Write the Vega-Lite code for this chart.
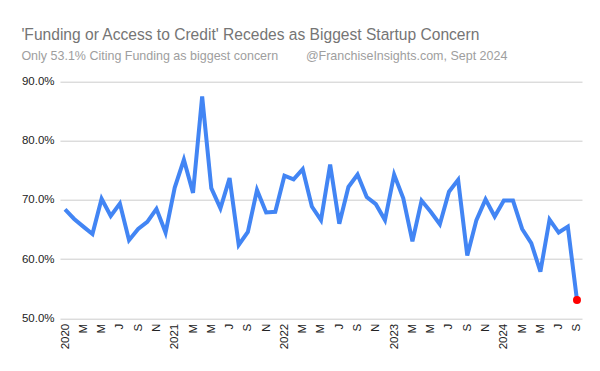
{
  "$schema": "https://vega.github.io/schema/vega-lite/v6.json",
  "width": 522,
  "height": 236.6,
  "autosize": "none",
  "padding": {"left": 60, "top": 81.7, "right": 18, "bottom": 53},
  "background": "white",
  "title": {
    "text": "'Funding or Access to Credit' Recedes as Biggest Startup Concern",
    "subtitle": "Only 53.1% Citing Funding as biggest concern\u00a0\u00a0\u00a0\u00a0\u00a0\u00a0\u00a0\u00a0@FranchiseInsights.com, Sept 2024",
    "anchor": "start",
    "dx": 0,
    "offset": 13,
    "font": "Liberation Sans",
    "fontSize": 15.6,
    "fontWeight": "normal",
    "color": "#757575",
    "subtitleFont": "Liberation Sans",
    "subtitleFontSize": 12.5,
    "subtitleColor": "#9e9e9e",
    "subtitlePadding": 7
  },
  "config": {
    "view": {"stroke": null},
    "axis": {"labelFont": "Liberation Sans", "labelFontSize": 11.5, "labelColor": "#222222", "ticks": false, "domain": false}
  },
  "data": {
    "values": [
      {"month": "2020-01", "pct": 68.4},
      {"month": "2020-02", "pct": 66.8},
      {"month": "2020-03", "pct": 65.5},
      {"month": "2020-04", "pct": 64.25},
      {"month": "2020-05", "pct": 70.2},
      {"month": "2020-06", "pct": 67.3},
      {"month": "2020-07", "pct": 69.4},
      {"month": "2020-08", "pct": 63.2},
      {"month": "2020-09", "pct": 65.1},
      {"month": "2020-10", "pct": 66.3},
      {"month": "2020-11", "pct": 68.5},
      {"month": "2020-12", "pct": 64.5},
      {"month": "2021-01", "pct": 72.1},
      {"month": "2021-02", "pct": 76.8},
      {"month": "2021-03", "pct": 71.2},
      {"month": "2021-04", "pct": 87.5},
      {"month": "2021-05", "pct": 72.0},
      {"month": "2021-06", "pct": 68.6},
      {"month": "2021-07", "pct": 73.7},
      {"month": "2021-08", "pct": 62.4},
      {"month": "2021-09", "pct": 64.6},
      {"month": "2021-10", "pct": 71.7},
      {"month": "2021-11", "pct": 67.9},
      {"month": "2021-12", "pct": 68.0},
      {"month": "2022-01", "pct": 74.1},
      {"month": "2022-02", "pct": 73.5},
      {"month": "2022-03", "pct": 75.2},
      {"month": "2022-04", "pct": 68.9},
      {"month": "2022-05", "pct": 66.6},
      {"month": "2022-06", "pct": 76.0},
      {"month": "2022-07", "pct": 66.0},
      {"month": "2022-08", "pct": 72.2},
      {"month": "2022-09", "pct": 74.3},
      {"month": "2022-10", "pct": 70.5},
      {"month": "2022-11", "pct": 69.3},
      {"month": "2022-12", "pct": 66.6},
      {"month": "2023-01", "pct": 74.3},
      {"month": "2023-02", "pct": 70.3},
      {"month": "2023-03", "pct": 63.0},
      {"month": "2023-04", "pct": 69.9},
      {"month": "2023-05", "pct": 68.0},
      {"month": "2023-06", "pct": 65.9},
      {"month": "2023-07", "pct": 71.4},
      {"month": "2023-08", "pct": 73.4},
      {"month": "2023-09", "pct": 60.6},
      {"month": "2023-10", "pct": 66.6},
      {"month": "2023-11", "pct": 70.1},
      {"month": "2023-12", "pct": 67.2},
      {"month": "2024-01", "pct": 69.9},
      {"month": "2024-02", "pct": 69.9},
      {"month": "2024-03", "pct": 65.1},
      {"month": "2024-04", "pct": 62.7},
      {"month": "2024-05", "pct": 57.9},
      {"month": "2024-06", "pct": 66.7},
      {"month": "2024-07", "pct": 64.5},
      {"month": "2024-08", "pct": 65.5},
      {"month": "2024-09", "pct": 53.1}
    ]
  },
  "encoding": {
    "x": {
      "field": "month",
      "type": "ordinal",
      "scale": {"type": "point", "padding": 0.55},
      "axis": {
        "title": null,
        "labelAngle": 270,
        "labelOverlap": false,
        "labelPadding": 5,
        "labelExpr": "slice(datum.value,5)=='01' ? slice(datum.value,0,4) : (slice(datum.value,5)=='03' || slice(datum.value,5)=='05') ? 'M' : slice(datum.value,5)=='07' ? 'J' : slice(datum.value,5)=='09' ? 'S' : slice(datum.value,5)=='11' ? 'N' : ''"
      }
    },
    "y": {
      "field": "pct",
      "type": "quantitative",
      "scale": {"domain": [50, 90], "nice": false, "zero": false},
      "axis": {
        "title": null,
        "values": [50, 60, 70, 80, 90],
        "labelExpr": "format(datum.value, '.1f') + '%'",
        "labelPadding": 6,
        "gridColor": "#cccccc",
        "gridWidth": 1
      }
    }
  },
  "layer": [
    {"mark": {"type": "line", "color": "#4285F4", "strokeWidth": 4, "strokeJoin": "miter"}},
    {
      "transform": [{"filter": "datum.month == '2024-09'"}],
      "mark": {"type": "circle", "color": "#ff0000", "opacity": 1, "size": 64}
    }
  ]
}
